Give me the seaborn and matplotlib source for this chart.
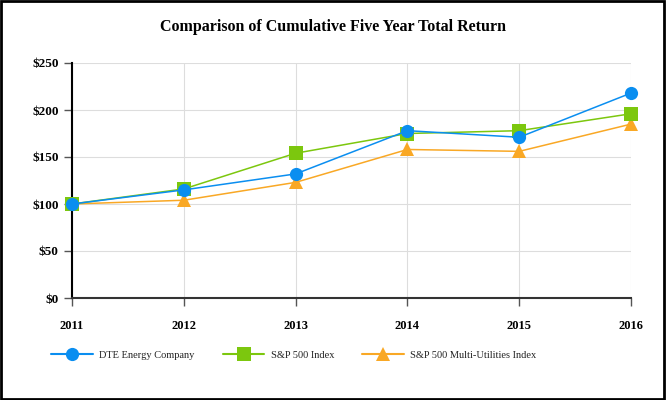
import pandas as pd
import matplotlib
matplotlib.use('Agg')
import matplotlib.pyplot as plt
import seaborn as sns

years = [2011, 2012, 2013, 2014, 2015, 2016]
dte = [100, 115, 132, 178, 171, 218]
sp500 = [100, 116, 154, 175, 178, 196]
multi_util = [100, 104, 123, 158, 156, 185]
series_names = ['DTE Energy Company', 'S&P 500 Index', 'S&P 500 Multi-Utilities Index']
y_ticks = [0, 50, 100, 150, 200, 250]

df = pd.DataFrame({'year': years * 3,
                   'value': dte + sp500 + multi_util,
                   'series': [s for s in series_names for _ in years]})

sns.set_theme(style="white")
plt.rcParams['font.family'] = ['Liberation Serif', 'DejaVu Serif']

colors = {'DTE Energy Company': '#0A8EF0',
          'S&P 500 Index': '#7CC70E',
          'S&P 500 Multi-Utilities Index': '#F9A825'}
markers = {'DTE Energy Company': 'o',
           'S&P 500 Index': 's',
           'S&P 500 Multi-Utilities Index': '^'}

fig = plt.figure(figsize=(6.66, 4.0), dpi=100)
ax = fig.add_axes([72 / 666, 1 - 298 / 400, (631 - 72) / 666, (298 - 63) / 400])

sns.lineplot(data=df, x='year', y='value', hue='series', style='series',
             palette=colors, markers=markers, dashes=False, markersize=9.5,
             markeredgewidth=0, linewidth=1.1, ax=ax, legend=False)
# DTE drawn on top, as in the original
for i, ln in enumerate(ax.lines):
    ln.set_clip_on(False)
    ln.set_zorder(5 - i)

ax.set_xlim(2011, 2016)
ax.set_ylim(0, 250)
ax.set_xticks(years)
ax.set_yticks(y_ticks)
ax.set_yticklabels(['$%d' % v for v in y_ticks])
ax.set_xlabel('')
ax.set_ylabel('')
ax.grid(True, color='#dddddd', linewidth=0.8)
for s in ['top', 'right']:
    ax.spines[s].set_visible(False)
ax.spines['left'].set_color('black')
ax.spines['left'].set_linewidth(1.5)
ax.spines['bottom'].set_color('#333333')
ax.spines['bottom'].set_linewidth(1.5)
ax.tick_params(axis='both', direction='out', length=6, width=1, color='#555555',
               bottom=True, left=True)
ax.tick_params(axis='y', labelsize=9.5)
ax.tick_params(axis='x', labelsize=9, pad=10)
for lab in ax.get_xticklabels() + ax.get_yticklabels():
    lab.set_fontweight('bold')
    lab.set_color('black')

fig.text(0.5, 1 - 27 / 400, 'Comparison of Cumulative Five Year Total Return',
         ha='center', va='center', fontsize=11.5, fontweight='bold', color='black')

handles = [plt.Line2D([], [], color=colors[n], marker=markers[n], markersize=9.5,
                      markeredgewidth=0, linewidth=1.5) for n in series_names]
fig.legend(handles, series_names, loc='center left', bbox_to_anchor=(42 / 666, 1 - 355 / 400),
           ncol=3, frameon=False, fontsize=7.5, handlelength=4, handletextpad=0.6,
           columnspacing=2.7, labelcolor='#222222')

border = plt.Rectangle((0.002, 0.003), 0.995, 0.994, transform=fig.transFigure,
                       fill=False, edgecolor='black', linewidth=2)
fig.patches.append(border)

plt.savefig('out.png', dpi=100)
